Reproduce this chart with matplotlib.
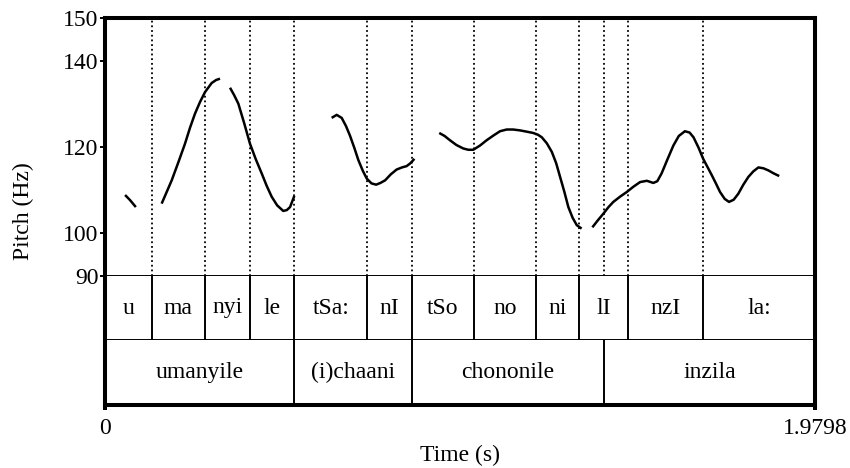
import matplotlib.pyplot as plt
import numpy as np

plt.rcParams['font.family'] = ['Liberation Serif', 'DejaVu Serif']

# -----------------------------------------------------------
# data: pitch track (Hz) and the two annotation tiers
# -----------------------------------------------------------
t_end = 1.9798

syll_labels = ['u', 'ma', 'nyi', 'le', 'tSa:', 'nI', 'tSo', 'no', 'ni', 'lI', 'nzI', 'la:']
syll_edges = [0, 0.130, 0.279, 0.404, 0.528, 0.731, 0.855, 1.030, 1.203, 1.322,
              1.457, 1.668, t_end]

word_labels = ['umanyile', '(i)chaani', 'chononile', 'inzila']
word_edges = [0, 0.528, 0.855, 1.392, t_end]

seg1_t = [0.056, 0.070, 0.086]
seg1_hz = [108.8, 107.6, 106.0]

seg2_t = [0.158, 0.172, 0.186, 0.205, 0.223, 0.237, 0.251, 0.265, 0.279, 0.2975,
          0.310, 0.3207]
seg2_hz = [106.8, 109.5, 112.2, 116.5, 120.7, 124.4, 127.7, 130.4, 132.7, 134.8,
           135.5, 135.8]

seg3_t = [0.3486, 0.360, 0.3718, 0.388, 0.4043, 0.420, 0.437, 0.451, 0.4648, 0.480,
          0.497, 0.507, 0.516, 0.528]
seg3_hz = [133.7, 132.0, 130.0, 125.5, 120.7, 117.2, 113.8, 110.9, 108.4, 106.4,
           105.1, 105.3, 106.0, 108.6]

seg4_t = [0.632, 0.646, 0.660, 0.672, 0.683, 0.695, 0.7065, 0.719, 0.730, 0.743,
          0.756, 0.768, 0.781, 0.797, 0.813, 0.828, 0.841, 0.852, 0.8627]
seg4_hz = [126.7, 127.4, 126.7, 124.8, 122.6, 119.8, 116.9, 114.4, 112.6, 111.5,
           111.2, 111.6, 112.2, 113.6, 114.7, 115.2, 115.5, 116.2, 117.2]

seg5_t = [0.932, 0.947, 0.962, 0.980, 0.999, 1.013, 1.027, 1.046, 1.064, 1.083,
          1.1015, 1.120, 1.138, 1.157, 1.176, 1.194, 1.207, 1.218, 1.232, 1.246,
          1.258, 1.269, 1.281, 1.292, 1.304, 1.3155, 1.329]
seg5_hz = [123.2, 122.5, 121.5, 120.4, 119.6, 119.3, 119.3, 120.3, 121.5, 122.6,
           123.6, 124.0, 124.0, 123.8, 123.5, 123.2, 122.8, 122.2, 120.8, 118.8,
           116.2, 113.0, 109.5, 106.0, 103.5, 101.8, 101.0]

seg6_t = [1.359, 1.374, 1.390, 1.404, 1.4175, 1.436, 1.455, 1.473, 1.492, 1.511,
          1.529, 1.540, 1.552, 1.568, 1.585, 1.600, 1.617, 1.630, 1.641, 1.655,
          1.668, 1.680, 1.692, 1.704, 1.715, 1.728, 1.740, 1.753, 1.766, 1.780,
          1.794, 1.808, 1.822, 1.836, 1.850, 1.865, 1.880]
seg6_hz = [101.3, 102.9, 104.5, 106.0, 107.2, 108.4, 109.5, 110.7, 111.8, 112.1,
           111.6, 112.0, 113.8, 117.0, 120.3, 122.5, 123.6, 123.3, 122.2, 119.8,
           117.2, 115.3, 113.4, 111.4, 109.5, 107.9, 107.2, 107.7, 109.1, 111.2,
           113.0, 114.3, 115.2, 115.0, 114.5, 113.8, 113.2]

segments = [(seg1_t, seg1_hz), (seg2_t, seg2_hz), (seg3_t, seg3_hz),
            (seg4_t, seg4_hz), (seg5_t, seg5_hz), (seg6_t, seg6_hz)]

pitch_ticks = [90, 100, 120, 140, 150]

# -----------------------------------------------------------
# layout (pixel rows of the 850x468 picture)
# -----------------------------------------------------------
W, H = 850, 468
x0, x1 = 105, 815
y_top, y_90, y_tier, y_bot = 17.5, 276, 340, 405


def box(top, bottom):
    return [x0 / W, 1 - bottom / H, (x1 - x0) / W, (bottom - top) / H]


fig = plt.figure(figsize=(8.5, 4.68), dpi=100)

ax_p = fig.add_axes(box(y_top, y_90))
ax_s = fig.add_axes(box(y_90, y_tier), sharex=ax_p)
ax_w = fig.add_axes(box(y_tier, y_bot), sharex=ax_p)
frame = fig.add_axes(box(y_top, y_bot), sharex=ax_p)

thin = 1.4
thick = 2.9
fs = 17

# pitch panel
for t, hz in segments:
    ax_p.plot(t, hz, color='black', linewidth=1.8, solid_capstyle='butt',
              solid_joinstyle='round')

all_edges = sorted(set(syll_edges[1:-1]) | set(word_edges[1:-1]))
for e in all_edges:
    ax_p.axvline(e, color='black', linewidth=1.3, linestyle=(0, (1, 1.6)))

ax_p.set_ylim(90, 150)
ax_p.set_yticks(pitch_ticks)
ax_p.set_yticklabels([str(v) for v in pitch_ticks], fontsize=fs)
ax_p.tick_params(axis='y', direction='out', length=3.8, width=thin, pad=1)
ax_p.tick_params(axis='x', bottom=False, labelbottom=False)
for side in ['top', 'left', 'right']:
    ax_p.spines[side].set_visible(False)
ax_p.spines['bottom'].set_linewidth(thin)

# annotation tiers
for ax, labels, edges in [(ax_s, syll_labels, syll_edges), (ax_w, word_labels, word_edges)]:
    tr = ax.get_xaxis_transform()
    ax.vlines(edges[1:-1], 0, 1, transform=tr, color='black', linewidth=thin)
    for i, lab in enumerate(labels):
        ax.text((edges[i] + edges[i + 1]) / 2, 0.5, lab, transform=tr,
                ha='center', va='center', fontsize=fs)
    ax.set_yticks([])
    ax.tick_params(axis='x', bottom=False, labelbottom=False)
    for side in ['top', 'left', 'right']:
        ax.spines[side].set_visible(False)
    ax.spines['bottom'].set_linewidth(thin)

# outer frame with time ticks
frame.patch.set_alpha(0)
for side in frame.spines:
    frame.spines[side].set_linewidth(thick)
frame.set_yticks([])
frame.set_xlim(0, t_end)
frame.set_xticks([0, t_end])
frame.set_xticklabels(['0', '1.9798'], fontsize=fs)
frame.tick_params(axis='x', direction='out', length=3.6, width=thick, pad=6)

fig.text(23 / W, 1 - 211 / H, 'Pitch (Hz)', rotation=90, ha='center', va='center',
         fontsize=fs)
fig.text(460 / W, 1 - 455 / H, 'Time (s)', ha='center', va='center', fontsize=fs)

fig.savefig('out.png', dpi=100)
